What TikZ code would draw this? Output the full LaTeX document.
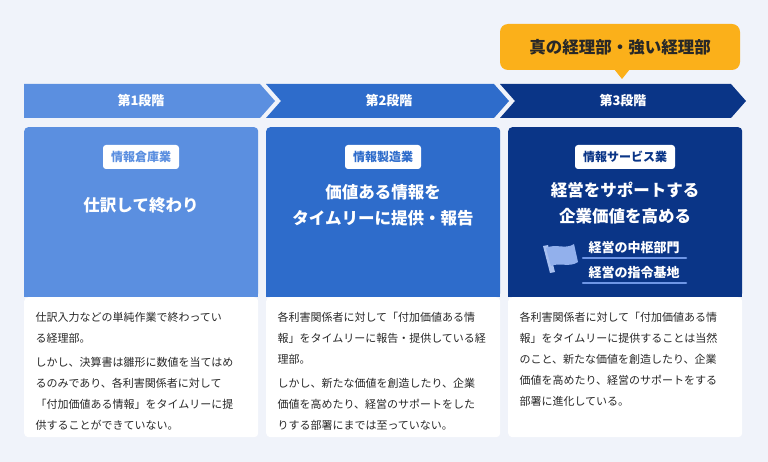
\documentclass[tikz,border=0pt]{standalone}
\usepackage{fontspec}
\setmainfont{Noto Sans CJK JP}
\usetikzlibrary{positioning, calc}
\definecolor{pagebg}{RGB}{240,243,250}
\definecolor{stepone}{RGB}{91,143,224}
\definecolor{steptwo}{RGB}{46,108,203}
\definecolor{stepthree}{RGB}{10,53,135}
\definecolor{badgeorange}{RGB}{251,176,26}
\definecolor{bodytext}{RGB}{40,40,40}
\definecolor{lineblue}{RGB}{110,150,230}
\tikzset{
  chevron/.style={draw=none},
  panel/.style={rectangle, rounded corners=4pt, draw=none, minimum width=234pt, anchor=north west},
  pill/.style={rectangle, rounded corners=3pt, fill=white, inner xsep=8pt,
               minimum height=24pt, font=\fontsize{12}{14}\selectfont\bfseries},
  headline/.style={text=white, align=center, font=\fontsize{16.5}{26}\selectfont\bfseries},
  steplabel/.style={text=white, font=\fontsize{13}{15}\selectfont\bfseries},
  bodynote/.style={text=bodytext, align=left, anchor=north west,
                   font=\fontsize{11}{21}\selectfont},
  keyword/.style={text=white, font=\fontsize{13}{15}\selectfont\bfseries},
}
\begin{document}
\begin{tikzpicture}[x=1pt, y=-1pt]
        \useasboundingbox (0,0) rectangle (768,462);
        \fill[pagebg] (0,0) rectangle (768,462);

        % Header chevrons
        \fill[stepone] (24,84) -- (260,84) -- (275,101) -- (260,118) -- (24,118) -- cycle;
        \fill[steptwo] (266,84) -- (494,84) -- (509,101) -- (494,118) -- (266,118) -- (281,101) -- cycle;
        \fill[stepthree] (500,84) -- (731,84) -- (746,101) -- (731,118) -- (500,118) -- (515,101) -- cycle;
        \node[steplabel] (stepA) at (141,101) {第1段階};
        \node[steplabel] (stepB) at (389,101) {第2段階};
        \node[steplabel] (stepC) at (623,101) {第3段階};

        % Badge
        \fill[badgeorange, rounded corners=8pt] (500,24) rectangle (740,70);
        \fill[badgeorange] (614,69) -- (630,69) -- (622,79) -- cycle;
        \node[text=bodytext, font=\fontsize{16.5}{20}\selectfont\bfseries] (badge) at (620,47) {真の経理部・強い経理部};

        % Top panels
        \node[panel, fill=stepone, minimum height=170pt] (topA) at (24,127) {};
        \node[panel, fill=steptwo, minimum height=170pt] (topB) at (266,127) {};
        \node[panel, fill=stepthree, minimum height=170pt] (topC) at (508,127) {};
        % Bottom panels
        \node[panel, fill=white, minimum height=140pt] (botA) at (24,297) {};
        \node[panel, fill=white, minimum height=140pt] (botB) at (266,297) {};
        \node[panel, fill=white, minimum height=140pt] (botC) at (508,297) {};
        \fill[stepone] (24,290) rectangle (258,297);
        \fill[steptwo] (266,290) rectangle (500,297);
        \fill[stepthree] (508,290) rectangle (742,297);

        % Pills
        \node[pill, text=stepone] (pillA) at (141,157) {情報倉庫業};
        \node[pill, text=steptwo] (pillB) at (383,157) {情報製造業};
        \node[pill, text=stepthree] (pillC) at (625,157) {情報サービス業};

        % Headlines
        \node[headline] (headA) at (141,205) {仕訳して終わり};
        \node[headline] (headB) at (383,205) {価値ある情報を\\タイムリーに提供・報告};
        \node[headline] (headC) at (625,203) {経営をサポートする\\企業価値を高める};

        % Flag and key roles
        \fill[lineblue!60!white] (543,246) -- (548,245) -- (555,272) -- (550,273) -- cycle;
        \fill[lineblue!75!white] (546,248) .. controls (556,243) and (565,250) .. (574,244)
          -- (578,262) .. controls (569,268) and (560,262) .. (551,266) -- cycle;
        \node[keyword] (roleA) at (634,248) {経営の中枢部門};
        \node[keyword] (roleB) at (634,273) {経営の指令基地};
        \draw[lineblue, line width=2.5pt, line cap=round] (583,258) -- (686,258);
        \draw[lineblue, line width=2.5pt, line cap=round] (583,283) -- (686,283);

        % Body texts
        \node[bodynote] (noteA) at (32,309) {仕訳入力などの単純作業で終わってい\\る経理部。\\[3pt]しかし、決算書は雛形に数値を当てはめ\\るのみであり、各利害関係者に対して\\「付加価値ある情報」をタイムリーに提\\供することができていない。};
        \node[bodynote] (noteB) at (274,309) {各利害関係者に対して「付加価値ある情\\報」をタイムリーに報告・提供している経\\理部。\\[3pt]しかし、新たな価値を創造したり、企業\\価値を高めたり、経営のサポートをした\\りする部署にまでは至っていない。};
        \node[bodynote] (noteC) at (516,309) {各利害関係者に対して「付加価値ある情\\報」をタイムリーに提供することは当然\\のこと、新たな価値を創造したり、企業\\価値を高めたり、経営のサポートをする\\部署に進化している。};
\end{tikzpicture}
\end{document}
